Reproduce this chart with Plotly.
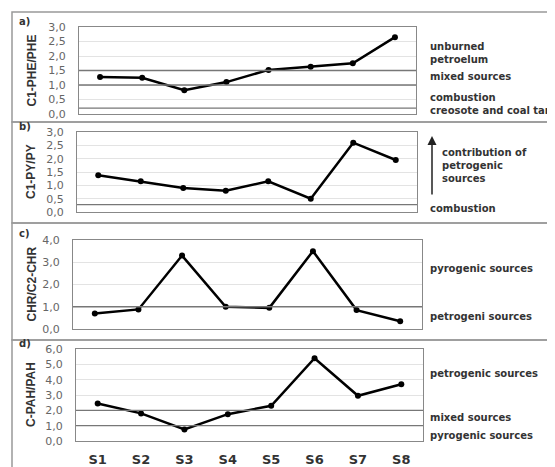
import plotly.graph_objects as go

W, H = 555, 467
OFF = 8  # page body margin
FW, FH = W - OFF, H - OFF
samples = ["S1", "S2", "S3", "S4", "S5", "S6", "S7", "S8"]
c1phe_phe = [1.28, 1.25, 0.82, 1.10, 1.52, 1.63, 1.75, 2.65]
c1py_py = [1.38, 1.15, 0.90, 0.80, 1.15, 0.50, 2.60, 1.95]
chr_c2chr = [0.70, 0.88, 3.30, 1.00, 0.95, 3.50, 0.85, 0.35]
cpah_pah = [2.45, 1.80, 0.75, 1.75, 2.30, 5.40, 2.95, 3.70]

titles = ["C1-PHE/PHE", "C1-PY/PY", "CHR/C2-CHR", "C-PAH/PAH"]
panel_labels = ["a)", "b)", "c)", "d)"]
thresholds = [[1.5, 1.0, 0.2], [0.28], [1.0], [2.0, 1.0]]
y_max = [3.0, 3.0, 4.0, 6.0]
y_step = [0.5, 0.5, 1.0, 1.0]

# pixel layout per panel (screen pixels): (x0, x1, ytop, ybottom)
boxes = [(79, 416, 27, 114), (77, 417, 132, 212), (73, 422, 240, 329), (76, 423, 349, 441)]
series = [c1phe_phe, c1py_py, chr_c2chr, cpah_pah]

px = lambda x: (x - OFF) / FW
py = lambda y: 1 - (y - OFF) / FH

fig = go.Figure()
layout = dict(width=FW, height=FH, margin=dict(l=0, r=0, t=0, b=0, autoexpand=False),
              paper_bgcolor="white", plot_bgcolor="white", showlegend=False)
shapes, annotations = [], []
tickfont = dict(family="DejaVu Sans", size=11, color="#666")

for i in range(4):
    n = "" if i == 0 else str(i + 1)
    x0, x1, yt, yb = boxes[i]
    fig.add_trace(go.Scatter(x=samples, y=series[i], mode="lines+markers",
                             line=dict(color="black", width=2.5),
                             marker=dict(color="black", size=6),
                             xaxis="x" + n, yaxis="y" + n))
    ticks = [round(k * y_step[i], 2) for k in range(int(round(y_max[i] / y_step[i])) + 1)]
    layout["xaxis" + n] = dict(domain=[px(x0), px(x1)], anchor="y" + n, automargin=False,
                               range=[-0.5, 7.5], showgrid=False,
                               showticklabels=(i == 3), ticks="",
                               tickvals=samples,
                               ticktext=[f"<b>{s}</b>" for s in samples],
                               tickfont=dict(family="DejaVu Sans", size=13, color="#333"),
                               ticklabelstandoff=6,
                               showline=True, mirror=True, linecolor="#888", linewidth=1)
    layout["yaxis" + n] = dict(domain=[py(yb), py(yt)], anchor="x" + n, automargin=False,
                               range=[0, y_max[i]], tickvals=ticks,
                               ticktext=[f"{t:.1f}".replace(".", ",") for t in ticks],
                               tickfont=tickfont, showgrid=True, gridcolor="#e3e3e3",
                               zeroline=False, showline=True, mirror=True,
                               linecolor="#888", linewidth=1, ticklen=0, ticks="",
                               ticklabelstandoff=10)
    for t in thresholds[i]:
        shapes.append(dict(type="line", xref="x" + n + " domain", yref="y" + n,
                           x0=0, x1=1, y0=t, y1=t, line=dict(color="#777", width=1.3)))
    annotations.append(dict(text=f"<b>{titles[i]}</b>", xref="paper", yref="paper",
                            x=px(31), y=py((yt + yb) / 2), textangle=-90, showarrow=False,
                            xanchor="center", yanchor="middle",
                            font=dict(family="Liberation Sans Narrow, Liberation Sans", size=12, color="#333")))
    annotations.append(dict(text=f"<b>{panel_labels[i]}</b>", xref="paper", yref="paper",
                            x=px(17), y=py(yt - 6), xanchor="left", yanchor="middle",
                            showarrow=False,
                            font=dict(family="DejaVu Sans", size=10, color="#333")))

# panel frames
for (ya, yb2) in [(12, 122), (122, 223), (223, 340), (340, 475)]:
    shapes.append(dict(type="rect", xref="paper", yref="paper", x0=px(12), x1=px(565),
                       y0=py(yb2), y1=py(ya), line=dict(color="#999", width=1.5)))

side_texts = [
    ("unburned<br>petroelum", 53), ("mixed sources", 76), ("combustion", 97),
    ("creosote and coal tar", 110),
    ("contribution of<br>petrogenic<br>sources", 166), ("combustion", 208),
    ("pyrogenic sources", 268), ("petrogeni sources", 316),
    ("petrogenic sources", 373), ("mixed sources", 417), ("pyrogenic sources", 435),
]
for txt, y in side_texts:
    x = 440 if txt.startswith("contribution") else 428
    annotations.append(dict(text=f"<b>{txt}</b>", xref="paper", yref="paper",
                            x=px(x), y=py(y), xanchor="left", yanchor="middle", align="left",
                            showarrow=False,
                            font=dict(family="DejaVu Sans", size=10, color="#333")))
# arrow in panel b
annotations.append(dict(xref="paper", yref="paper", axref="pixel", ayref="pixel",
                        x=px(432), y=py(136), ax=0, ay=60, text="",
                        showarrow=True, arrowhead=2, arrowsize=1.2, arrowwidth=1.5,
                        arrowcolor="#222"))

layout["shapes"] = shapes
layout["annotations"] = annotations
fig.update_layout(**layout)
fig.write_html("out.html")
